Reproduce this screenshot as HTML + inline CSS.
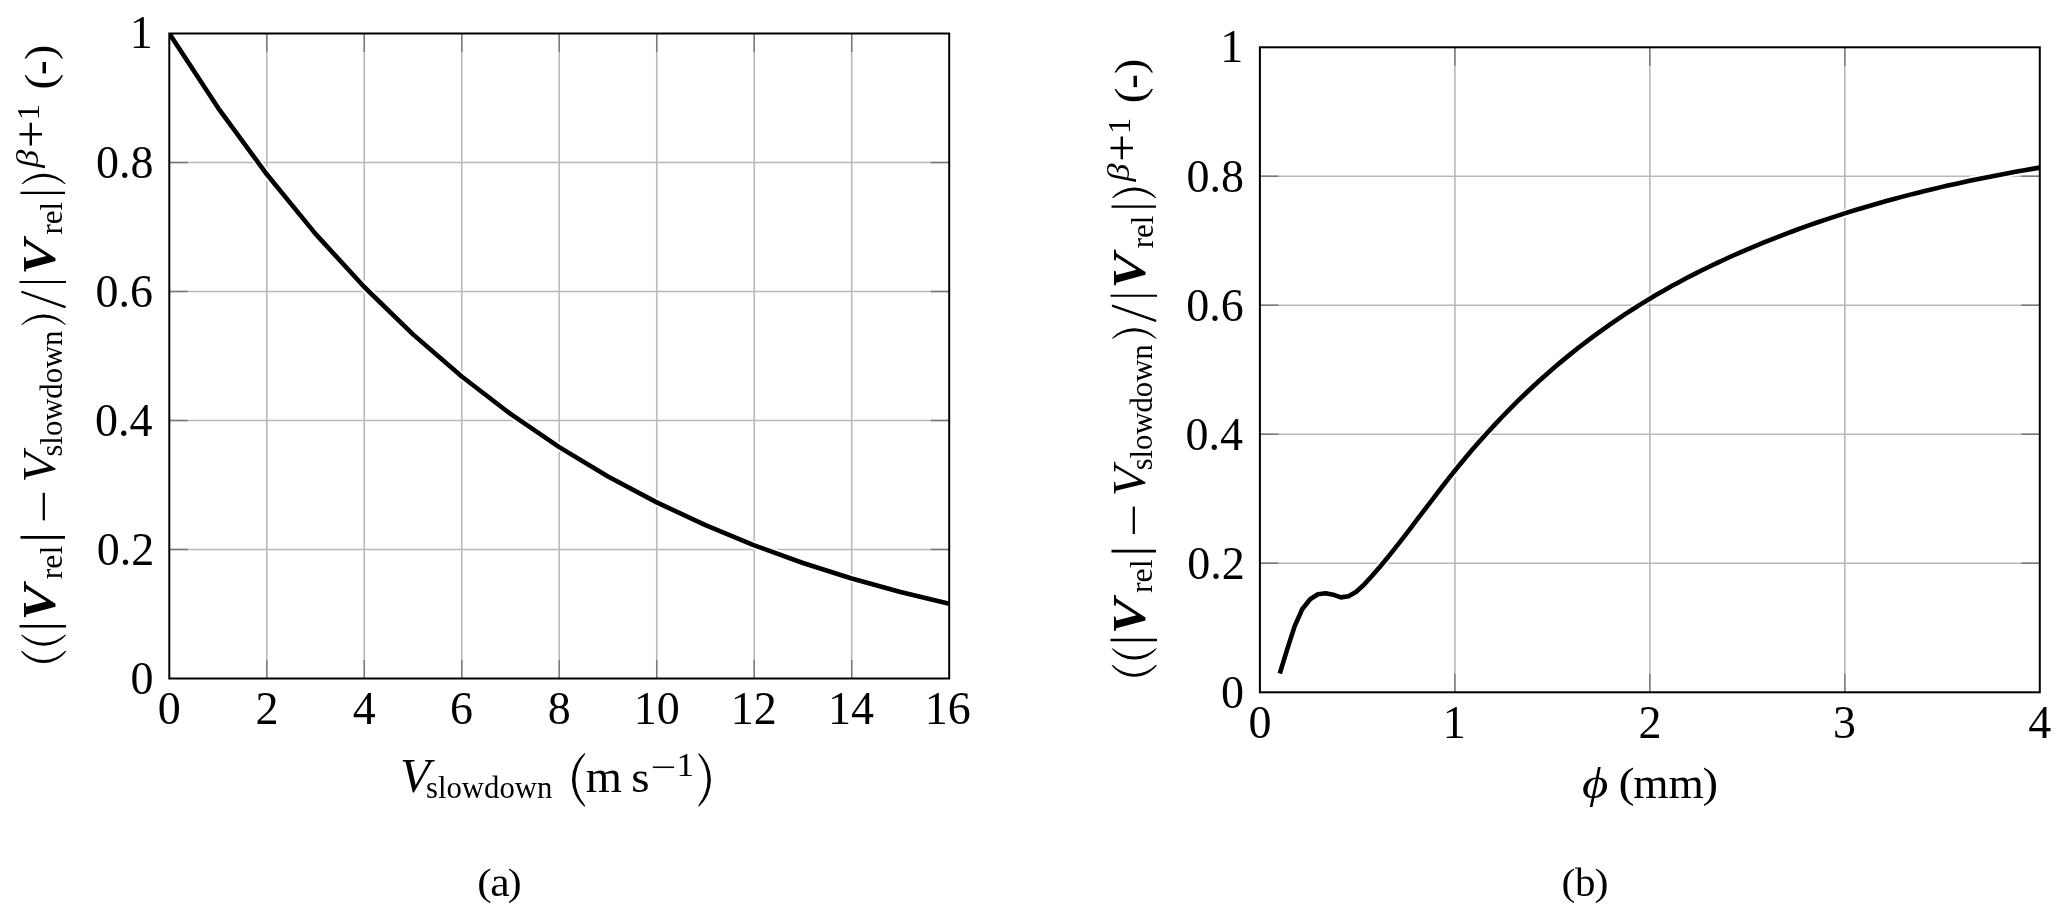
<!DOCTYPE html>
<html><head><meta charset="utf-8"><title>Figure</title>
<style>html,body{margin:0;padding:0;background:#fff;}svg{display:block;filter:grayscale(1);}text{font-kerning:none;}</style>
</head><body>
<svg width="2067" height="921" viewBox="0 0 2067 921" font-family="Liberation Serif">
<rect width="2067" height="921" fill="#fff"/>
<path d="M266.79 33.50V678.50M364.28 33.50V678.50M461.76 33.50V678.50M559.25 33.50V678.50M656.74 33.50V678.50M754.23 33.50V678.50M851.71 33.50V678.50M169.30 162.50H949.20M169.30 291.50H949.20M169.30 420.50H949.20M169.30 549.50H949.20" stroke="#b8b8b8" stroke-width="1.6" fill="none"/>
<path d="M266.79 678.50v-18.5M266.79 33.50v18.5M364.28 678.50v-18.5M364.28 33.50v18.5M461.76 678.50v-18.5M461.76 33.50v18.5M559.25 678.50v-18.5M559.25 33.50v18.5M656.74 678.50v-18.5M656.74 33.50v18.5M754.23 678.50v-18.5M754.23 33.50v18.5M851.71 678.50v-18.5M851.71 33.50v18.5M169.30 162.50h18.5M949.20 162.50h-18.5M169.30 291.50h18.5M949.20 291.50h-18.5M169.30 420.50h18.5M949.20 420.50h-18.5M169.30 549.50h18.5M949.20 549.50h-18.5" stroke="#787878" stroke-width="1.4" fill="none"/>
<path d="M1454.88 47.30V692.30M1649.85 47.30V692.30M1844.82 47.30V692.30M1259.90 176.30H2039.80M1259.90 305.30H2039.80M1259.90 434.30H2039.80M1259.90 563.30H2039.80" stroke="#b8b8b8" stroke-width="1.6" fill="none"/>
<path d="M1454.88 692.30v-18.5M1454.88 47.30v18.5M1649.85 692.30v-18.5M1649.85 47.30v18.5M1844.82 692.30v-18.5M1844.82 47.30v18.5M1259.90 176.30h18.5M2039.80 176.30h-18.5M1259.90 305.30h18.5M2039.80 305.30h-18.5M1259.90 434.30h18.5M2039.80 434.30h-18.5M1259.90 563.30h18.5M2039.80 563.30h-18.5" stroke="#787878" stroke-width="1.4" fill="none"/>
<g style="font-kerning:none">
<clipPath id="ca"><rect x="169.30" y="33.50" width="779.90" height="645.00"/></clipPath>
<g clip-path="url(#ca)">
<path d="M169.30 33.50 L218.04 107.77 L266.79 174.32 L315.53 233.85 L364.28 287.01 L413.02 334.37 L461.76 376.51 L510.51 413.93 L559.25 447.10 L607.99 476.44 L656.74 502.36 L705.48 525.20 L754.23 545.31 L802.97 562.97 L851.71 578.45 L900.46 592.00 L949.20 603.84" fill="none" stroke="#fff" stroke-width="8.1" stroke-linejoin="round"/>
<path d="M169.30 33.50 L218.04 107.77 L266.79 174.32 L315.53 233.85 L364.28 287.01 L413.02 334.37 L461.76 376.51 L510.51 413.93 L559.25 447.10 L607.99 476.44 L656.74 502.36 L705.48 525.20 L754.23 545.31 L802.97 562.97 L851.71 578.45 L900.46 592.00 L949.20 603.84" fill="none" stroke="#000" stroke-width="4.6" stroke-linejoin="round"/>
</g>
<clipPath id="cb"><rect x="1259.90" y="47.30" width="779.90" height="645.00"/></clipPath>
<g clip-path="url(#cb)">
<path d="M1279.80 673.50 L1287.10 649.60 L1294.60 626.40 L1302.20 609.20 L1310.10 599.20 L1317.90 594.30 L1325.60 593.30 L1333.20 594.70 L1340.80 597.40 L1348.50 596.30 L1356.30 591.80 L1364.00 584.60 L1371.68 576.26 L1379.36 567.49 L1387.04 558.26 L1394.72 548.67 L1402.40 538.83 L1410.09 528.83 L1417.77 518.73 L1425.45 508.61 L1433.13 498.52 L1440.81 488.52 L1448.49 478.67 L1456.17 469.05 L1463.85 459.69 L1471.53 450.59 L1479.21 441.75 L1486.89 433.16 L1494.57 424.82 L1502.26 416.71 L1509.94 408.84 L1517.62 401.19 L1525.30 393.76 L1532.98 386.53 L1540.66 379.52 L1548.34 372.70 L1556.02 366.07 L1563.70 359.63 L1571.38 353.37 L1579.06 347.28 L1586.74 341.36 L1594.43 335.61 L1602.11 330.03 L1609.79 324.60 L1617.47 319.32 L1625.15 314.20 L1632.83 309.21 L1640.51 304.38 L1648.19 299.67 L1655.87 295.10 L1663.55 290.66 L1671.23 286.35 L1678.91 282.15 L1686.60 278.07 L1694.28 274.10 L1701.96 270.24 L1709.64 266.48 L1717.32 262.82 L1725.00 259.25 L1732.68 255.77 L1740.36 252.38 L1748.04 249.08 L1755.72 245.85 L1763.40 242.69 L1771.08 239.60 L1778.77 236.59 L1786.45 233.64 L1794.13 230.76 L1801.81 227.94 L1809.49 225.19 L1817.17 222.51 L1824.85 219.89 L1832.53 217.33 L1840.21 214.83 L1847.89 212.39 L1855.57 210.01 L1863.25 207.68 L1870.94 205.42 L1878.62 203.20 L1886.30 201.05 L1893.98 198.94 L1901.66 196.89 L1909.34 194.89 L1917.02 192.94 L1924.70 191.03 L1932.38 189.18 L1940.06 187.37 L1947.74 185.61 L1955.42 183.89 L1963.11 182.21 L1970.79 180.58 L1978.47 178.98 L1986.15 177.43 L1993.83 175.92 L2001.51 174.44 L2009.19 173.00 L2016.87 171.60 L2024.55 170.23 L2032.23 168.89 L2039.80 167.61" fill="none" stroke="#fff" stroke-width="8.1" stroke-linejoin="round"/>
<path d="M1279.80 673.50 L1287.10 649.60 L1294.60 626.40 L1302.20 609.20 L1310.10 599.20 L1317.90 594.30 L1325.60 593.30 L1333.20 594.70 L1340.80 597.40 L1348.50 596.30 L1356.30 591.80 L1364.00 584.60 L1371.68 576.26 L1379.36 567.49 L1387.04 558.26 L1394.72 548.67 L1402.40 538.83 L1410.09 528.83 L1417.77 518.73 L1425.45 508.61 L1433.13 498.52 L1440.81 488.52 L1448.49 478.67 L1456.17 469.05 L1463.85 459.69 L1471.53 450.59 L1479.21 441.75 L1486.89 433.16 L1494.57 424.82 L1502.26 416.71 L1509.94 408.84 L1517.62 401.19 L1525.30 393.76 L1532.98 386.53 L1540.66 379.52 L1548.34 372.70 L1556.02 366.07 L1563.70 359.63 L1571.38 353.37 L1579.06 347.28 L1586.74 341.36 L1594.43 335.61 L1602.11 330.03 L1609.79 324.60 L1617.47 319.32 L1625.15 314.20 L1632.83 309.21 L1640.51 304.38 L1648.19 299.67 L1655.87 295.10 L1663.55 290.66 L1671.23 286.35 L1678.91 282.15 L1686.60 278.07 L1694.28 274.10 L1701.96 270.24 L1709.64 266.48 L1717.32 262.82 L1725.00 259.25 L1732.68 255.77 L1740.36 252.38 L1748.04 249.08 L1755.72 245.85 L1763.40 242.69 L1771.08 239.60 L1778.77 236.59 L1786.45 233.64 L1794.13 230.76 L1801.81 227.94 L1809.49 225.19 L1817.17 222.51 L1824.85 219.89 L1832.53 217.33 L1840.21 214.83 L1847.89 212.39 L1855.57 210.01 L1863.25 207.68 L1870.94 205.42 L1878.62 203.20 L1886.30 201.05 L1893.98 198.94 L1901.66 196.89 L1909.34 194.89 L1917.02 192.94 L1924.70 191.03 L1932.38 189.18 L1940.06 187.37 L1947.74 185.61 L1955.42 183.89 L1963.11 182.21 L1970.79 180.58 L1978.47 178.98 L1986.15 177.43 L1993.83 175.92 L2001.51 174.44 L2009.19 173.00 L2016.87 171.60 L2024.55 170.23 L2032.23 168.89 L2039.80 167.61" fill="none" stroke="#000" stroke-width="4.6" stroke-linejoin="round"/>
</g>
<rect x="169.30" y="33.50" width="779.90" height="645.00" fill="none" stroke="#000" stroke-width="2.0"/>
<rect x="1259.90" y="47.30" width="779.90" height="645.00" fill="none" stroke="#000" stroke-width="2.0"/>
<text font-size="46.00" transform="translate(157.80,723.97)">0</text>
<text font-size="46.00" transform="translate(255.55,724.13)">2</text>
<text font-size="46.00" transform="translate(352.69,724.04)">4</text>
<text font-size="46.00" transform="translate(449.96,723.90)">6</text>
<text font-size="46.00" transform="translate(547.75,723.97)">8</text>
<text font-size="46.00" transform="translate(633.79,723.97)">10</text>
<text font-size="46.00" transform="translate(730.77,724.13)">12</text>
<text font-size="46.00" transform="translate(828.05,724.08)">14</text>
<text font-size="46.00" transform="translate(924.86,723.90)">16</text>
<text font-size="46.00" transform="translate(130.45,694.47)">0</text>
<text font-size="46.00" transform="translate(96.74,565.37)">0.2</text>
<text font-size="46.00" transform="translate(94.92,436.37)">0.4</text>
<text font-size="46.00" transform="translate(95.57,307.37)">0.6</text>
<text font-size="46.00" transform="translate(95.95,178.37)">0.8</text>
<text font-size="46.00" transform="translate(129.66,48.18)">1</text>
<text font-size="46.00" transform="translate(1248.40,737.77)">0</text>
<text font-size="46.00" transform="translate(1442.73,737.88)">1</text>
<text font-size="46.00" transform="translate(1638.61,737.93)">2</text>
<text font-size="46.00" transform="translate(1833.12,737.70)">3</text>
<text font-size="46.00" transform="translate(2028.21,737.84)">4</text>
<text font-size="46.00" transform="translate(1221.05,708.27)">0</text>
<text font-size="46.00" transform="translate(1187.34,579.17)">0.2</text>
<text font-size="46.00" transform="translate(1185.52,450.17)">0.4</text>
<text font-size="46.00" transform="translate(1186.17,321.17)">0.6</text>
<text font-size="46.00" transform="translate(1186.55,192.17)">0.8</text>
<text font-size="46.00" transform="translate(1220.26,61.98)">1</text>
<path d="M20.90 651.10A27.70 27.70 0 0 0 66.40 651.10L65.00 651.10A29.82 29.82 0 0 1 22.30 651.10Z"/>
<path d="M20.90 634.80A29.19 29.19 0 0 0 66.40 634.80L65.00 634.80A32.49 32.49 0 0 1 22.30 634.80Z"/>
<text font-size="49.80" transform="translate(55.45,631.27) rotate(-90) scale(1.0080,1)">|</text>
<text font-size="47.02" font-style="italic" font-weight="bold" transform="translate(54.89,620.55) rotate(-90) scale(1.1447,1)">V</text>
<text font-size="30.56" transform="translate(61.70,579.24) rotate(-90) scale(1.0418,1)">rel</text>
<text font-size="49.03" transform="translate(55.32,543.03) rotate(-90) scale(1.1467,1)">|</text>
<text font-size="46.00" transform="translate(58.87,522.94) rotate(-90) scale(1.2847,1)">−</text>
<text font-size="47.32" font-style="italic" transform="translate(54.88,482.46) rotate(-90) scale(1.0360,1)">V</text>
<text font-size="30.84" transform="translate(61.80,456.56) rotate(-90) scale(0.9939,1)">slowdown</text>
<path d="M21.00 324.70A30.14 30.14 0 0 1 66.20 324.70L64.80 324.70A34.43 34.43 0 0 0 22.40 324.70Z"/>
<path d="M22.30 292.00L64.70 306.90" stroke="#000" stroke-width="2.3" stroke-linecap="round"/>
<text font-size="49.69" transform="translate(55.48,285.77) rotate(-90) scale(0.7678,1)">|</text>
<text font-size="46.87" font-style="italic" font-weight="bold" transform="translate(54.59,274.82) rotate(-90) scale(1.1357,1)">V</text>
<text font-size="31.41" transform="translate(62.29,234.52) rotate(-90) scale(0.9853,1)">rel</text>
<text font-size="48.92" transform="translate(55.34,197.22) rotate(-90) scale(0.9030,1)">|</text>
<path d="M21.40 184.10A29.18 29.18 0 0 1 65.90 184.10L64.50 184.10A33.07 33.07 0 0 0 22.80 184.10Z"/>
<text font-size="30.75" font-style="italic" transform="translate(38.15,167.82) rotate(-90) scale(1.1734,1)">β</text>
<text font-size="48.95" transform="translate(47.45,148.04) rotate(-90) scale(1.0010,1)">+</text>
<text font-size="32.11" transform="translate(39.30,120.25) rotate(-90) scale(1.0083,1)">1</text>
<text font-size="42.35" transform="translate(53.78,89.47) rotate(-90) scale(1.1124,1)">(</text>
<text font-size="46.00" transform="translate(55.39,75.03) rotate(-90) scale(0.9540,1)">-</text>
<text font-size="42.35" transform="translate(53.78,60.08) rotate(-90) scale(1.0849,1)">)</text>
<path d="M1111.50 664.90A27.70 27.70 0 0 0 1157.00 664.90L1155.60 664.90A29.82 29.82 0 0 1 1112.90 664.90Z"/>
<path d="M1111.50 648.60A29.19 29.19 0 0 0 1157.00 648.60L1155.60 648.60A32.49 32.49 0 0 1 1112.90 648.60Z"/>
<text font-size="49.80" transform="translate(1146.05,645.07) rotate(-90) scale(1.0080,1)">|</text>
<text font-size="47.02" font-style="italic" font-weight="bold" transform="translate(1145.49,634.35) rotate(-90) scale(1.1447,1)">V</text>
<text font-size="30.56" transform="translate(1152.30,593.04) rotate(-90) scale(1.0418,1)">rel</text>
<text font-size="49.03" transform="translate(1145.92,556.83) rotate(-90) scale(1.1467,1)">|</text>
<text font-size="46.00" transform="translate(1149.47,536.74) rotate(-90) scale(1.2847,1)">−</text>
<text font-size="47.32" font-style="italic" transform="translate(1145.48,496.26) rotate(-90) scale(1.0360,1)">V</text>
<text font-size="30.84" transform="translate(1152.40,470.36) rotate(-90) scale(0.9939,1)">slowdown</text>
<path d="M1111.60 338.50A30.14 30.14 0 0 1 1156.80 338.50L1155.40 338.50A34.43 34.43 0 0 0 1113.00 338.50Z"/>
<path d="M1112.90 305.80L1155.30 320.70" stroke="#000" stroke-width="2.3" stroke-linecap="round"/>
<text font-size="49.69" transform="translate(1146.08,299.57) rotate(-90) scale(0.7678,1)">|</text>
<text font-size="46.87" font-style="italic" font-weight="bold" transform="translate(1145.19,288.62) rotate(-90) scale(1.1357,1)">V</text>
<text font-size="31.41" transform="translate(1152.89,248.32) rotate(-90) scale(0.9853,1)">rel</text>
<text font-size="48.92" transform="translate(1145.94,211.02) rotate(-90) scale(0.9030,1)">|</text>
<path d="M1112.00 197.90A29.18 29.18 0 0 1 1156.50 197.90L1155.10 197.90A33.07 33.07 0 0 0 1113.40 197.90Z"/>
<text font-size="30.75" font-style="italic" transform="translate(1128.75,181.62) rotate(-90) scale(1.1734,1)">β</text>
<text font-size="48.95" transform="translate(1138.05,161.84) rotate(-90) scale(1.0010,1)">+</text>
<text font-size="32.11" transform="translate(1129.90,134.05) rotate(-90) scale(1.0083,1)">1</text>
<text font-size="42.35" transform="translate(1144.38,103.27) rotate(-90) scale(1.1124,1)">(</text>
<text font-size="46.00" transform="translate(1145.99,88.83) rotate(-90) scale(0.9540,1)">-</text>
<text font-size="42.35" transform="translate(1144.38,73.88) rotate(-90) scale(1.0849,1)">)</text>
<text font-size="47.62" font-style="italic" transform="translate(400.02,791.58) scale(1.0359,1)">V</text>
<text font-size="31.84" transform="translate(426.04,798.39) scale(0.9651,1)">slowdown</text>
<path d="M584.80 752.70A35.09 35.09 0 0 0 584.80 806.90L584.80 804.90A38.21 38.21 0 0 1 584.80 754.70Z"/>
<text font-size="45.84" transform="translate(585.72,791.80) scale(1.0154,1)">m</text>
<text font-size="45.12" transform="translate(631.27,791.76) scale(1.0442,1)">s</text>
<text font-size="32.00" transform="translate(650.22,778.03) scale(1.4304,1)">−</text>
<text font-size="32.87" transform="translate(676.50,775.60) scale(1.0715,1)">1</text>
<path d="M698.60 752.70A36.00 36.00 0 0 1 698.60 806.90L698.60 804.90A39.84 39.84 0 0 0 698.60 754.70Z"/>
<text font-size="44.00" font-style="italic" transform="translate(1582.03,797.53) scale(1.1575,1)">ϕ</text>
<text font-size="41.80" transform="translate(1618.58,796.80) scale(1.1551,1)">(</text>
<text font-size="44.36" transform="translate(1633.25,798.00) scale(1.0226,1)">mm</text>
<text font-size="41.80" transform="translate(1702.39,796.80) scale(1.1178,1)">)</text>
<text font-size="38.05" transform="translate(477.30,895.00) scale(1.1359,1)">(</text>
<text font-size="40.92" transform="translate(490.36,896.20) scale(1.0703,1)">a</text>
<text font-size="38.05" transform="translate(507.86,895.00) scale(1.0949,1)">)</text>
<text font-size="38.05" transform="translate(1561.57,895.00) scale(1.0949,1)">(</text>
<text font-size="40.79" transform="translate(1575.10,896.20) scale(1.0031,1)">b</text>
<text font-size="38.05" transform="translate(1594.54,895.00) scale(1.1052,1)">)</text>
</g></svg>
</body></html>
